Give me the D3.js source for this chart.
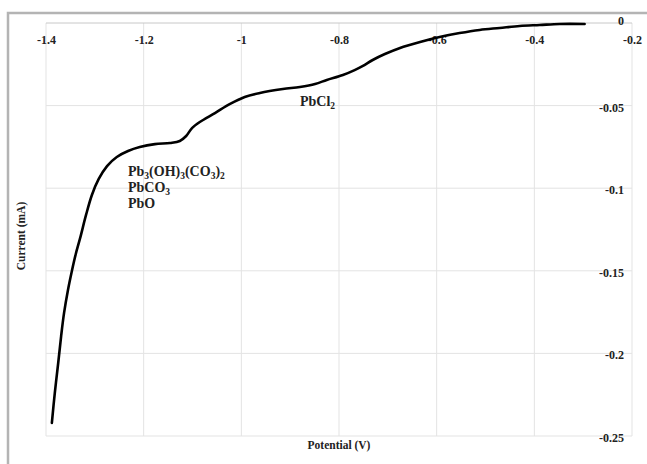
<!DOCTYPE html>
<html>
<head>
<meta charset="utf-8">
<script src="https://cdn.jsdelivr.net/npm/d3@7"></script>
<style>
  html, body { margin: 0; padding: 0; background: #fff; }
  svg { display: block; }
</style>
</head>
<body>
<svg id="chart" width="647" height="464"></svg>
<script>
// ---- data ----
const potential = [-1.388, -1.382, -1.375, -1.369, -1.363, -1.355, -1.347, -1.339, -1.330, -1.318,
  -1.306, -1.292, -1.275, -1.255, -1.232, -1.208, -1.177, -1.146, -1.126, -1.113,
  -1.101, -1.085, -1.054, -1.023, -0.993, -0.962, -0.915, -0.880, -0.849, -0.825,
  -0.792, -0.768, -0.751, -0.731, -0.706, -0.675, -0.634, -0.594, -0.553, -0.512,
  -0.471, -0.430, -0.389, -0.348, -0.297];
const current = [-0.2421, -0.2240, -0.2058, -0.1895, -0.1755, -0.1616, -0.1501, -0.1398, -0.1301, -0.1162,
  -0.1041, -0.0944, -0.0866, -0.0811, -0.0775, -0.0751, -0.0733, -0.0726, -0.0714, -0.0684,
  -0.0636, -0.0599, -0.0545, -0.0490, -0.0448, -0.0424, -0.0400, -0.0387, -0.0369, -0.0345,
  -0.0315, -0.0285, -0.0260, -0.0224, -0.0188, -0.0151, -0.0115, -0.0085, -0.0061, -0.0042,
  -0.0030, -0.0018, -0.0012, -0.0006, -0.0006];
const xTicks = [-1.4, -1.2, -1.0, -0.8, -0.6, -0.4, -0.2];
const xTickLabels = ["-1.4", "-1.2", "-1", "-0.8", "-0.6", "-0.4", "-0.2"];
const yTicks = [0, -0.05, -0.1, -0.15, -0.2, -0.25];
const yTickLabels = ["0", "-0.05", "-0.1", "-0.15", "-0.2", "-0.25"];
const xTitle = "Potential (V)";
const yTitle = "Current (mA)";

// ---- layout ----
const svg = d3.select("#chart");
const x = d3.scaleLinear().domain([-1.4, -0.2]).range([46, 632]);
const y = d3.scaleLinear().domain([0, -0.25]).range([23, 436]);
const font = "'Liberation Serif', 'Times New Roman', serif";
const ink = "#222";

// outer frame
svg.append("rect").attr("x", 8).attr("y", 13).attr("width", 700).attr("height", 500)
  .attr("fill", "#fff").attr("stroke", "#b4b4b4").attr("stroke-width", 2.5);

// gridlines
svg.append("g").selectAll("line").data(xTicks).join("line")
  .attr("x1", d => x(d)).attr("x2", d => x(d))
  .attr("y1", y(0)).attr("y2", y(-0.25))
  .attr("stroke", "#e3e3e3").attr("stroke-width", 1);
svg.append("g").selectAll("line").data(yTicks).join("line")
  .attr("x1", x(-1.4)).attr("x2", x(-0.2))
  .attr("y1", d => y(d)).attr("y2", d => y(d))
  .attr("stroke", d => d === 0 ? "#c8c8c8" : "#e3e3e3").attr("stroke-width", 1);

// x axis (at current = 0)
const xAxis = d3.axisBottom(x).tickValues(xTicks)
  .tickFormat((d, i) => xTickLabels[i]).tickSize(0).tickPadding(12);
const gx = svg.append("g").attr("transform", `translate(0,${y(0)})`).call(xAxis);
gx.select(".domain").remove();
gx.selectAll("text").attr("font-family", font).attr("font-weight", "bold")
  .attr("font-size", 12).attr("fill", ink);

// y axis (at right edge)
const yAxis = d3.axisLeft(y).tickValues(yTicks)
  .tickFormat((d, i) => yTickLabels[i]).tickSize(0).tickPadding(8);
const gy = svg.append("g").attr("transform", `translate(${x(-0.2)},0)`).call(yAxis);
gy.select(".domain").remove();
gy.selectAll("text").attr("font-family", font).attr("font-weight", "bold")
  .attr("font-size", 12).attr("fill", ink);
gy.selectAll(".tick").filter(d => d === 0).select("text").attr("dy", "0.1em");
gy.selectAll(".tick").filter(d => d !== 0).select("text").attr("dy", "0.45em");

// curve
const pts = potential.map((v, i) => [v, current[i]]);
svg.append("path").datum(pts)
  .attr("d", d3.line().x(d => x(d[0])).y(d => y(d[1])).curve(d3.curveCatmullRom.alpha(0.5)))
  .attr("fill", "none").attr("stroke", "#000").attr("stroke-width", 2.6)
  .attr("stroke-linejoin", "round").attr("stroke-linecap", "round");

// axis titles
svg.append("text").attr("x", (x(-1.4) + x(-0.2)) / 2).attr("y", 449)
  .attr("text-anchor", "middle").attr("font-family", font).attr("font-weight", "bold")
  .attr("font-size", 11.5).attr("fill", ink).text(xTitle);
svg.append("text").attr("transform", `translate(25,236) rotate(-90)`)
  .attr("text-anchor", "middle").attr("font-family", font).attr("font-weight", "bold")
  .attr("font-size", 11.5).attr("fill", ink).text(yTitle);

// annotations
function chem(parts, px, py) {
  const t = svg.append("text").attr("x", px).attr("y", py)
    .attr("font-family", font).attr("font-weight", "bold").attr("font-size", 14).attr("fill", ink);
  let shifted = false;
  parts.forEach(p => {
    const s = t.append("tspan").text(p.t);
    if (p.sub) {
      s.attr("font-size", 9.5).attr("dy", shifted ? 0 : 3);
      shifted = true;
    } else if (shifted) {
      s.attr("dy", -3);
      shifted = false;
    }
  });
}
chem([{t:"Pb"},{t:"3",sub:1},{t:"(OH)"},{t:"3",sub:1},{t:"(CO"},{t:"3",sub:1},{t:")"},{t:"2",sub:1}], 128, 176);
chem([{t:"PbCO"},{t:"3",sub:1}], 128, 192);
chem([{t:"PbO"}], 128, 208);
chem([{t:"PbCl"},{t:"2",sub:1}], 300, 106);
</script>
</body>
</html>
